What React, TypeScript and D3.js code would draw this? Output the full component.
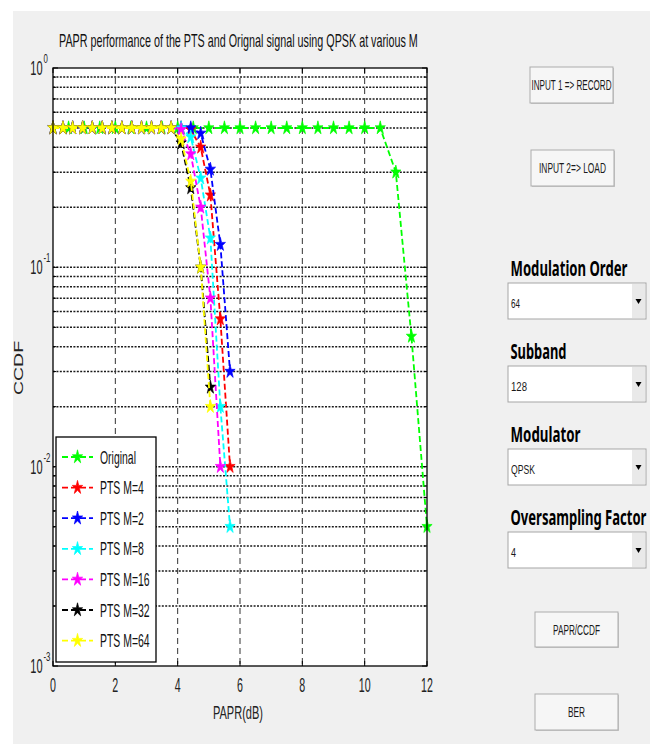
import React, { useLayoutEffect, useRef, useState } from 'react';
import * as d3 from 'd3';

const WIDTH = 650;
const HEIGHT = 744;

// plot box (pixels)
const margin = { l: 53, r: 427, t: 68, b: 666 };

// horizontal squeeze of the screenshot text
const SX = 0.58;

// ---- data ----
const paprOriginal = [
  0, 0.5, 1, 1.5, 2, 2.5, 3, 3.5, 4, 4.5, 5, 5.5, 6, 6.5, 7, 7.5, 8, 8.5, 9, 9.5, 10, 10.5, 11,
  11.5, 12,
];
const ccdfOriginal = [
  0.5, 0.5, 0.5, 0.5, 0.5, 0.5, 0.5, 0.5, 0.5, 0.5, 0.5, 0.5, 0.5, 0.5, 0.5, 0.5, 0.5, 0.5, 0.5,
  0.5, 0.5, 0.5, 0.3, 0.045, 0.005,
];

const paprPts = [
  0, 0.32, 0.63, 0.95, 1.26, 1.58, 1.89, 2.21, 2.53, 2.84, 3.16, 3.47, 3.79, 4.11, 4.42, 4.74,
  5.05, 5.37, 5.68,
];
const ccdfM4 = [
  0.5, 0.5, 0.5, 0.5, 0.5, 0.5, 0.5, 0.5, 0.5, 0.5, 0.5, 0.5, 0.5, 0.5, 0.49, 0.4, 0.23, 0.055,
  0.01,
];
const ccdfM2 = [
  0.5, 0.5, 0.5, 0.5, 0.5, 0.5, 0.5, 0.5, 0.5, 0.5, 0.5, 0.5, 0.5, 0.5, 0.5, 0.47, 0.31, 0.13,
  0.03,
];
const ccdfM8 = [
  0.5, 0.5, 0.5, 0.5, 0.5, 0.5, 0.5, 0.5, 0.5, 0.5, 0.5, 0.5, 0.5, 0.5, 0.45, 0.28, 0.14, 0.02,
  0.005,
];
const ccdfM16 = [
  0.5, 0.5, 0.5, 0.5, 0.5, 0.5, 0.5, 0.5, 0.5, 0.5, 0.5, 0.5, 0.5, 0.49, 0.37, 0.2, 0.07, 0.01,
];
const ccdfM32 = [
  0.5, 0.5, 0.5, 0.5, 0.5, 0.5, 0.5, 0.5, 0.5, 0.5, 0.5, 0.5, 0.5, 0.42, 0.25, 0.1, 0.025,
];
const ccdfM64 = [
  0.5, 0.5, 0.5, 0.5, 0.5, 0.5, 0.5, 0.5, 0.5, 0.5, 0.5, 0.5, 0.5, 0.44, 0.27, 0.1, 0.02,
];

const seriesLabels = [
  'Original',
  'PTS M=4',
  'PTS M=2',
  'PTS M=8',
  'PTS M=16',
  'PTS M=32',
  'PTS M=64',
];
const seriesColors = ['#00ff00', '#ff0000', '#0000ff', '#00ffff', '#ff00ff', '#000000', '#ffff00'];

const xTickValues = [0, 2, 4, 6, 8, 10, 12];
const yTickValues = [1, 0.1, 0.01, 0.001];

const title = 'PAPR performance of the PTS and Orignal signal using QPSK at various M';

// GUI controls on the right
const popupLabels = ['Modulation Order', 'Subband', 'Modulator', 'Oversampling Factor'];
const popupValues = ['64', '128', 'QPSK', '4'];

type Pt = { p: number; c: number };

const zip = (xs: number[], ys: number[]): Pt[] => ys.map((c, i) => ({ p: xs[i], c }));

const series = [
  zip(paprOriginal, ccdfOriginal),
  zip(paprPts, ccdfM4),
  zip(paprPts, ccdfM2),
  zip(paprPts, ccdfM8),
  zip(paprPts, ccdfM16),
  zip(paprPts, ccdfM32),
  zip(paprPts, ccdfM64),
];

const xScale = d3.scaleLinear().domain([0, 12]).range([margin.l, margin.r]);
const yScale = d3.scaleLog().domain([1e-3, 1]).range([margin.b, margin.t]);

const starPath = d3.symbol(d3.symbolStar, 58)() as string;

const line = d3
  .line<Pt>()
  .x((d) => xScale(d.p))
  .y((d) => yScale(d.c));

// squeezed text
const SText = ({ x, y, size, anchor = 'start', sx = SX, children, ...rest }: any) => (
  <text
    transform={`translate(${x},${y}) scale(${sx},1)`}
    fontSize={size}
    textAnchor={anchor}
    {...rest}
  >
    {children}
  </text>
);

// text squeezed to a given width (the screenshot is compressed horizontally)
const FitText = ({ x, y, width, anchor = 'start', children, ...rest }: any) => {
  const ref = useRef<SVGTextElement>(null);
  const [s, setS] = useState(SX);
  useLayoutEffect(() => {
    if (ref.current) {
      const w = ref.current.getComputedTextLength();
      if (w > 0) setS(width / w);
    }
  }, [width, children]);
  return (
    <text
      ref={ref}
      transform={`translate(${x},${y}) scale(${s},1)`}
      textAnchor={anchor}
      {...rest}
    >
      {children}
    </text>
  );
};

const Star = ({ x, y, color }: { x: number; y: number; color: string }) => (
  <path
    d={starPath}
    transform={`translate(${x},${y}) scale(0.75,1)`}
    fill={color}
    stroke={color}
    strokeWidth={0.8}
  />
);

const Button = ({ x, y, w, h, label, tw }: any) => (
  <g>
    <rect x={x + 1} y={y + 1} width={w} height={h} fill="#c8c8c8" />
    <rect x={x} y={y} width={w} height={h} fill="#f6f6f6" stroke="#acacac" strokeWidth={1} />
    <FitText x={x + w / 2} y={y + h / 2 + 5} width={tw} anchor="middle" fontSize={15} fill="#1a1a1a">
      {label}
    </FitText>
  </g>
);

const Popup = ({ x, y, label, value, labelW, valueW }: any) => (
  <g>
    <FitText
      x={x + 2.5}
      y={y - 7}
      width={labelW}
      fontSize={21}
      fontWeight="bold"
      fontFamily="'Noto Sans', 'Open Sans', sans-serif"
      fill="#000"
    >
      {label}
    </FitText>
    <rect x={x} y={y} width={138} height={36} fill="#fff" stroke="#a5a5a5" strokeWidth={1} />
    <rect x={x + 124} y={y + 1} width={13} height={34} fill="#e9e9e9" />
    <path
      d={`M${x + 127.5},${y + 16} L${x + 133.5},${y + 16} L${x + 130.5},${y + 21} Z`}
      fill="#000"
    />
    <FitText x={x + 3} y={y + 25} width={valueW} fontSize={12} fill="#1a1a1a">
      {value}
    </FitText>
  </g>
);

const App = () => {
  const minorTicks = yScale.ticks();
  const gridY = minorTicks.filter((v) => v < 0.999 && v > 0.00101);
  const gridX = xTickValues.filter((v) => v > 0 && v < 12);

  const legendX = 56;
  const legendY = 437;
  const legendRow = 30.6;

  const popupY = [283, 366, 449, 532];
  const popupLabelW = [117, 56, 70, 136];
  const popupValueW = [9, 16, 24, 5];

  return (
    <svg
      width={WIDTH}
      height={HEIGHT}
      style={{ position: 'absolute', left: 0, top: 0 }}
      fontFamily="'Liberation Sans', Arial, sans-serif"
    >
      <rect x={0} y={0} width={WIDTH} height={HEIGHT} fill="#ffffff" />
      <rect x={13} y={11} width={WIDTH - 13} height={HEIGHT - 11} fill="#f0f0f0" />

      {/* plot area */}
      <rect
        x={margin.l}
        y={margin.t}
        width={margin.r - margin.l}
        height={margin.b - margin.t}
        fill="#fff"
      />

      {/* grid */}
      {gridY.map((v, i) => (
        <line
          key={`gy-${i}`}
          x1={margin.l}
          x2={margin.r}
          y1={yScale(v)}
          y2={yScale(v)}
          stroke="#1a1a1a"
          strokeWidth={1.5}
          strokeDasharray="2,1.4"
        />
      ))}
      {gridX.map((v) => (
        <line
          key={`gx-${v}`}
          x1={xScale(v)}
          x2={xScale(v)}
          y1={margin.t}
          y2={margin.b}
          stroke="#333"
          strokeWidth={1}
          strokeDasharray="6,4"
        />
      ))}

      {/* ticks */}
      {xTickValues.map((v) => (
        <g key={`xt-${v}`}>
          <line x1={xScale(v)} x2={xScale(v)} y1={margin.b} y2={margin.b - 5} stroke="#000" />
          <line x1={xScale(v)} x2={xScale(v)} y1={margin.t} y2={margin.t + 5} stroke="#000" />
        </g>
      ))}
      {minorTicks.map((v, i) => {
        const major = yTickValues.includes(v);
        const len = major ? 5 : 3;
        return (
          <g key={`yt-${i}`}>
            <line x1={margin.l} x2={margin.l + len} y1={yScale(v)} y2={yScale(v)} stroke="#000" />
            <line x1={margin.r} x2={margin.r - len} y1={yScale(v)} y2={yScale(v)} stroke="#000" />
          </g>
        );
      })}

      {/* series */}
      {series.map((pts, i) => (
        <g key={`s-${i}`}>
          <path
            d={line(pts) as string}
            fill="none"
            stroke={seriesColors[i]}
            strokeWidth={1.8}
            strokeDasharray="6,3"
          />
          {pts.map((d, j) => (
            <Star key={j} x={xScale(d.p)} y={yScale(d.c)} color={seriesColors[i]} />
          ))}
        </g>
      ))}

      {/* axes box */}
      <rect
        x={margin.l}
        y={margin.t}
        width={margin.r - margin.l}
        height={margin.b - margin.t}
        fill="none"
        stroke="#000"
        strokeWidth={1.3}
      />

      {/* tick labels */}
      {xTickValues.map((v) => (
        <SText key={`xl-${v}`} x={xScale(v)} y={692} size={20.5} sx={0.52} anchor="middle" fill="#222">
          {v}
        </SText>
      ))}
      {yTickValues.map((v) => (
        <g key={`yl-${v}`}>
          <SText x={42.5} y={yScale(v) + 7} size={20} sx={0.55} anchor="end" fill="#222">
            10
          </SText>
          <SText x={43.5} y={yScale(v) - 5} size={13} sx={0.6} fill="#222">
            {Math.round(Math.log10(v))}
          </SText>
        </g>
      ))}

      {/* axis labels and title */}
      <FitText x={213} y={719} width={50} fontSize={19} fill="#222">
        PAPR(dB)
      </FitText>
      <text
        transform={`translate(23,368) scale(0.64,1) rotate(-90)`}
        fontSize={19.5}
        textAnchor="middle"
        fill="#222"
      >
        CCDF
      </text>
      <FitText x={59} y={47} width={359} fontSize={17.5} fill="#111">
        {title}
      </FitText>

      {/* legend */}
      <rect
        x={legendX}
        y={legendY}
        width={100}
        height={225}
        fill="#fff"
        stroke="#000"
        strokeWidth={1.3}
      />
      {seriesLabels.map((label, i) => {
        const cy = legendY + 20 + i * legendRow;
        return (
          <g key={`lg-${i}`}>
            <line
              x1={62}
              x2={93}
              y1={cy}
              y2={cy}
              stroke={seriesColors[i]}
              strokeWidth={1.8}
              strokeDasharray="6,3"
            />
            <Star x={77.5} y={cy} color={seriesColors[i]} />
            <SText x={100} y={cy + 6.5} size={18} sx={0.58} fill="#111">
              {label}
            </SText>
          </g>
        );
      })}

      {/* GUI controls */}
      <Button x={530} y={67} w={83} h={36} label="INPUT 1 => RECORD" tw={80} />
      <Button x={531} y={150} w={83} h={36} label="INPUT 2=> LOAD" tw={67} />
      {popupLabels.map((label, i) => (
        <Popup
          key={label}
          x={508}
          y={popupY[i]}
          label={label}
          value={popupValues[i]}
          labelW={popupLabelW[i]}
          valueW={popupValueW[i]}
        />
      ))}
      <Button x={535} y={612} w={83} h={35} label="PAPR/CCDF" tw={47} />
      <Button x={535} y={694} w={83} h={36} label="BER" tw={17} />
    </svg>
  );
};

export default App;
